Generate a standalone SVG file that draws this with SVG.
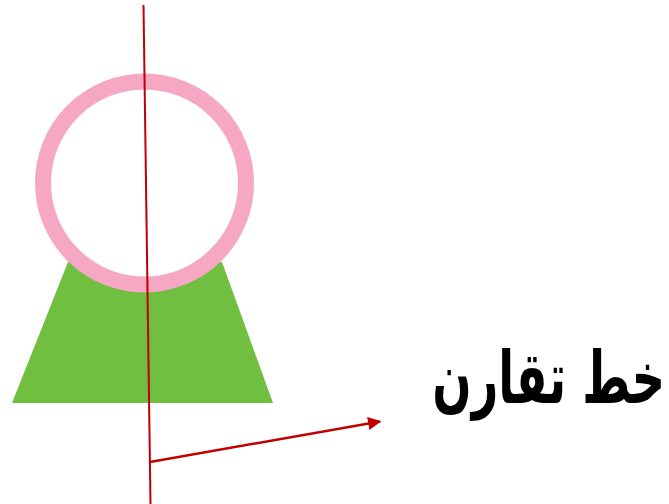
<svg xmlns="http://www.w3.org/2000/svg" width="669" height="504" viewBox="0 0 669 504">
<style>
.red{stroke:#c00000;stroke-width:2;fill:none}
.lbl{font-family:"DejaVu Sans","Noto Sans",sans-serif;font-weight:bold;font-size:66px;fill:#000}
</style>
<defs>
<marker id="ah" viewBox="0 0 10 10" refX="9" refY="5" markerWidth="6.5" markerHeight="5.5" orient="auto" markerUnits="strokeWidth">
<path d="M0,0 L10,5 L0,10 z" fill="#c00000"/>
</marker>
</defs>
<rect width="669" height="504" fill="#fff"/>
<g id="base">
<polygon points="68,262 222,262 273,403 12,403" fill="#70bf41"/>
</g>
<g id="ring">
<circle cx="144.5" cy="183" r="101.5" fill="#fff" stroke="#f6a7c4" stroke-width="16"/>
</g>
<g id="connectors">
<line class="red" x1="143.5" y1="5" x2="150.5" y2="504"/>
<line class="red" style="stroke-width:2.4" x1="150" y1="462" x2="380" y2="421.5" marker-end="url(#ah)"/>
</g>
<g id="label">
<text class="lbl" transform="translate(665,403) scale(0.7,1.1)" x="0" y="0" text-anchor="end">خط تقارن</text>
</g>
</svg>
